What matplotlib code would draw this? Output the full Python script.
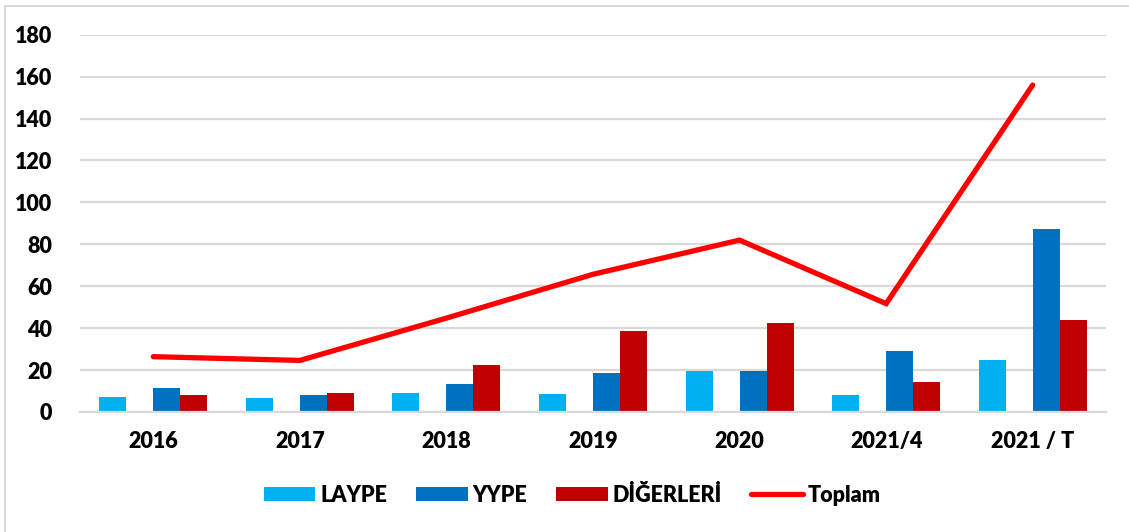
import matplotlib.pyplot as plt
import matplotlib.patches as patches
import numpy as np

categories = ["2016", "2017", "2018", "2019", "2020", "2021/4", "2021 / T"]
laype = [7.1, 6.8, 8.9, 8.7, 19.7, 8.2, 24.8]
yype = [11.4, 8.2, 13.5, 18.4, 19.7, 29.1, 87.4]
digerleri = [7.9, 9.2, 22.4, 38.6, 42.6, 14.4, 43.7]
toplam = [26.4, 24.6, 44.8, 65.7, 82.0, 51.7, 156.0]

plt.rcParams['font.family'] = ['Lato', 'DejaVu Sans']
plt.rcParams['font.weight'] = 'heavy'

fig = plt.figure(figsize=(11.29, 5.32), dpi=100)
ax = fig.add_axes([80 / 1129, 1 - 412 / 532, 1026 / 1129, (412 - 34.7) / 532])

x = np.arange(len(categories))
w = 0.184
# four slots per group, the second one stays empty
b1 = ax.bar(x - 1.5 * w, laype, w, color="#00B0F0", label="LAYPE", zorder=2)
b2 = ax.bar(x + 0.5 * w, yype, w, color="#0070C0", label="YYPE", zorder=2)
b3 = ax.bar(x + 1.5 * w, digerleri, w, color="#C00000", label="DİĞERLERİ", zorder=2)
ln, = ax.plot(x, toplam, color="#FF0000", linewidth=3.8, label="Toplam", zorder=3,
              solid_capstyle="round", solid_joinstyle="miter")

ax.set_xlim(-0.5, len(categories) - 0.5)
ax.set_ylim(0, 180)
ax.set_yticks(range(0, 181, 20))
ax.set_xticks(x)
ax.set_xticklabels(categories)
ax.tick_params(axis="both", length=0, labelsize=15.5)
ax.tick_params(axis="y", pad=20)
ax.tick_params(axis="x", pad=14)
ax.grid(axis="y", color="#D9D9D9", linewidth=1.6, zorder=0)
for s in ["top", "right", "left"]:
    ax.spines[s].set_visible(False)
ax.spines["bottom"].set_color("#D9D9D9")
ax.spines["bottom"].set_linewidth(1.6)

fig.legend(handles=[b1, b2, b3, ln], loc="center", bbox_to_anchor=(572 / 1129, 1 - 495 / 532),
           ncol=4, frameon=False, fontsize=15.5, handlelength=2.4, handleheight=0.65,
           handletextpad=0.22, columnspacing=1.35)

# outer chart border
border = patches.Rectangle((4.5 / 1129, -0.1), 1.2, 1.1 - 5.5 / 532, transform=fig.transFigure,
                           fill=False, edgecolor="#D9D9D9", linewidth=1.5)
fig.patches.append(border)

fig.savefig("out.png", dpi=100)
